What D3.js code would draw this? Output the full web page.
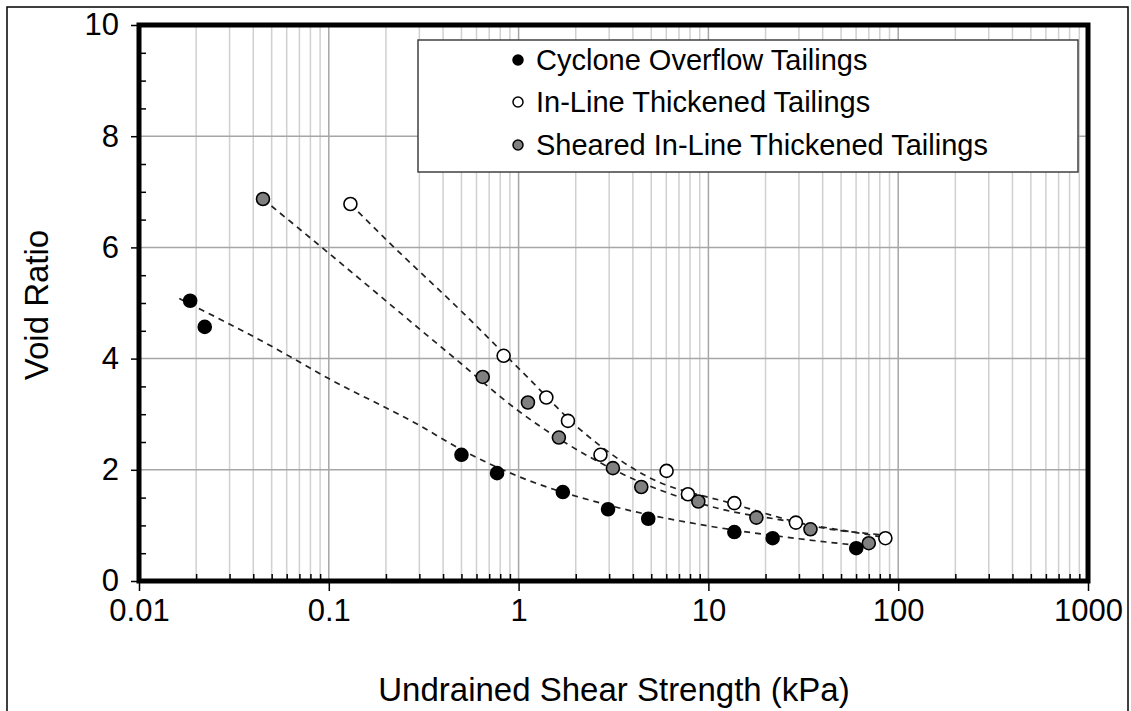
<!DOCTYPE html>
<html>
<head>
<meta charset="utf-8">
<script src="https://cdn.jsdelivr.net/npm/d3@7"></script>
<style>
  html, body { margin: 0; padding: 0; background: #fff; }
  svg { display: block; font-family: "Liberation Sans", Arial, sans-serif; }
</style>
</head>
<body>
<svg id="chart" width="1131" height="711"></svg>
<script>
// ---- Data ----
const seriesNames = ["Cyclone Overflow Tailings", "In-Line Thickened Tailings", "Sheared In-Line Thickened Tailings"];

const cycloneX = [0.0186, 0.0222, 0.50, 0.77, 1.71, 2.96, 4.82, 13.7, 21.8, 60.1];
const cycloneY = [5.04, 4.57, 2.27, 1.94, 1.60, 1.29, 1.12, 0.88, 0.77, 0.59];

const inlineX = [0.13, 0.834, 1.40, 1.82, 2.70, 6.02, 7.80, 13.7, 28.9, 85.6];
const inlineY = [6.78, 4.05, 3.30, 2.88, 2.27, 1.98, 1.56, 1.40, 1.05, 0.77];

const shearedX = [0.045, 0.647, 1.12, 1.63, 3.14, 4.43, 8.85, 17.9, 34.5, 70.0];
const shearedY = [6.87, 3.67, 3.21, 2.58, 2.03, 1.69, 1.43, 1.14, 0.93, 0.68];

// dashed trend curves
const cycloneTrendX = [0.0163, 0.05, 0.1, 0.3, 0.5, 1.0, 3.0, 10, 30, 70];
const cycloneTrendY = [5.08, 4.22, 3.64, 2.80, 2.36, 1.88, 1.36, 0.99, 0.76, 0.62];

const inlineTrendX = [0.13, 0.202, 0.514, 1.11, 2.12, 4.76, 13.1, 44.2, 80.9, 94.8];
const inlineTrendY = [6.78, 6.13, 4.81, 3.67, 2.72, 1.88, 1.40, 0.93, 0.83, 0.80];

const shearedTrendX = [0.045, 0.098, 0.474, 0.98, 3.18, 12.1, 24, 90];
const shearedTrendY = [6.87, 5.92, 3.97, 3.08, 2.00, 1.28, 1.10, 0.77];

const xTickValues = [0.01, 0.1, 1, 10, 100, 1000];
const xTickLabels = ["0.01", "0.1", "1", "10", "100", "1000"];
const yTickValues = [0, 2, 4, 6, 8, 10];
const yTickLabels = ["0", "2", "4", "6", "8", "10"];

const xTitle = "Undrained Shear Strength (kPa)";
const yTitle = "Void Ratio";

// ---- Layout ----
const svg = d3.select("#chart");
const L = 139, R = 1088, T = 25, B = 581;

const x = d3.scaleLog().domain([0.01, 1000]).range([L, R]);
const y = d3.scaleLinear().domain([0, 10]).range([B, T]);

// outer thin frame
svg.append("rect").attr("x", 7).attr("y", 7).attr("width", 1121).attr("height", 740)
  .attr("fill", "none").attr("stroke", "#000").attr("stroke-width", 1.5);

// minor vertical grid
const minorX = [];
for (let d = -2; d < 3; d++) for (let k = 2; k <= 9; k++) minorX.push(k * Math.pow(10, d));
svg.append("g").selectAll("line").data(minorX).join("line")
  .attr("x1", d => x(d)).attr("x2", d => x(d)).attr("y1", T).attr("y2", B)
  .attr("stroke", "#d0d0d0").attr("stroke-width", 1.5);
// major vertical grid
svg.append("g").selectAll("line").data(xTickValues.slice(1, -1)).join("line")
  .attr("x1", d => x(d)).attr("x2", d => x(d)).attr("y1", T).attr("y2", B)
  .attr("stroke", "#a6a6a6").attr("stroke-width", 1.5);
// horizontal grid
svg.append("g").selectAll("line").data(yTickValues.slice(1, -1)).join("line")
  .attr("x1", L).attr("x2", R).attr("y1", d => y(d)).attr("y2", d => y(d))
  .attr("stroke", "#a6a6a6").attr("stroke-width", 1.5);

// trend lines
const lineGen = d3.line().x(d => x(d[0])).y(d => y(d[1])).curve(d3.curveMonotoneX);
const trends = [
  d3.zip(cycloneTrendX, cycloneTrendY),
  d3.zip(shearedTrendX, shearedTrendY),
  d3.zip(inlineTrendX, inlineTrendY)
];
svg.append("g").selectAll("path").data(trends).join("path")
  .attr("d", lineGen).attr("fill", "none").attr("stroke", "#222")
  .attr("stroke-width", 1.7).attr("stroke-dasharray", "6,5");

// points
const fills = ["#000000", "#ffffff", "#808080"];
const series = [
  d3.zip(cycloneX, cycloneY),
  d3.zip(inlineX, inlineY),
  d3.zip(shearedX, shearedY)
];
series.forEach((pts, i) => {
  svg.append("g").selectAll("circle").data(pts).join("circle")
    .attr("cx", d => x(d[0])).attr("cy", d => y(d[1])).attr("r", 6.5)
    .attr("fill", fills[i]).attr("stroke", "#000").attr("stroke-width", 1.6);
});

// axes
const xAxisMajor = d3.axisBottom(x).tickValues(xTickValues)
  .tickFormat((d, i) => xTickLabels[i]).tickSize(10).tickPadding(8);
const gx = svg.append("g").attr("transform", `translate(0,${B})`).call(xAxisMajor);
gx.select(".domain").remove();
gx.selectAll("line").attr("stroke", "#000").attr("stroke-width", 1.5);
gx.selectAll("text").attr("font-size", 31).attr("fill", "#000")
  .attr("font-family", "'Liberation Sans', Arial, sans-serif");

const xAxisMinor = d3.axisTop(x).tickValues(minorX).tickFormat("").tickSize(7);
const gxm = svg.append("g").attr("transform", `translate(0,${B})`).call(xAxisMinor);
gxm.select(".domain").remove();
gxm.selectAll("line").attr("stroke", "#000").attr("stroke-width", 1.5);

const yAxisMajor = d3.axisLeft(y).tickValues(yTickValues)
  .tickFormat((d, i) => yTickLabels[i]).tickSize(8).tickPadding(12);
const gy = svg.append("g").attr("transform", `translate(${L},0)`).call(yAxisMajor);
gy.select(".domain").remove();
gy.selectAll("line").attr("stroke", "#000").attr("stroke-width", 1.5);
gy.selectAll("text").attr("font-size", 31).attr("fill", "#000")
  .attr("font-family", "'Liberation Sans', Arial, sans-serif");

const yMinor = d3.range(1, 20).map(v => v / 2).filter(v => v % 2 !== 0);
const yAxisMinor = d3.axisRight(y).tickValues(yMinor).tickFormat("").tickSize(7);
const gym = svg.append("g").attr("transform", `translate(${L},0)`).call(yAxisMinor);
gym.select(".domain").remove();
gym.selectAll("line").attr("stroke", "#000").attr("stroke-width", 1.5);

// plot frame (thick)
svg.append("rect").attr("x", L).attr("y", T).attr("width", R - L).attr("height", B - T)
  .attr("fill", "none").attr("stroke", "#000").attr("stroke-width", 5);

// axis titles
svg.append("text").attr("x", 614).attr("y", 701).attr("text-anchor", "middle")
  .attr("font-size", 33).attr("fill", "#000").text(xTitle);
svg.append("text").attr("transform", "translate(48,305) rotate(-90)")
  .attr("text-anchor", "middle").attr("font-size", 33).attr("fill", "#000").text(yTitle);

// legend
const lg = svg.append("g");
lg.append("rect").attr("x", 418).attr("y", 40).attr("width", 660).attr("height", 132)
  .attr("fill", "#fff").attr("stroke", "#404040").attr("stroke-width", 1.5);
const rowsY = [60, 102, 145];
seriesNames.forEach((name, i) => {
  lg.append("circle").attr("cx", 518).attr("cy", rowsY[i]).attr("r", 5)
    .attr("fill", fills[i]).attr("stroke", "#000").attr("stroke-width", 1.5);
  lg.append("text").attr("x", 536).attr("y", rowsY[i]).attr("dy", "0.36em")
    .attr("font-size", 29).attr("fill", "#000").text(name);
});
</script>
</body>
</html>
